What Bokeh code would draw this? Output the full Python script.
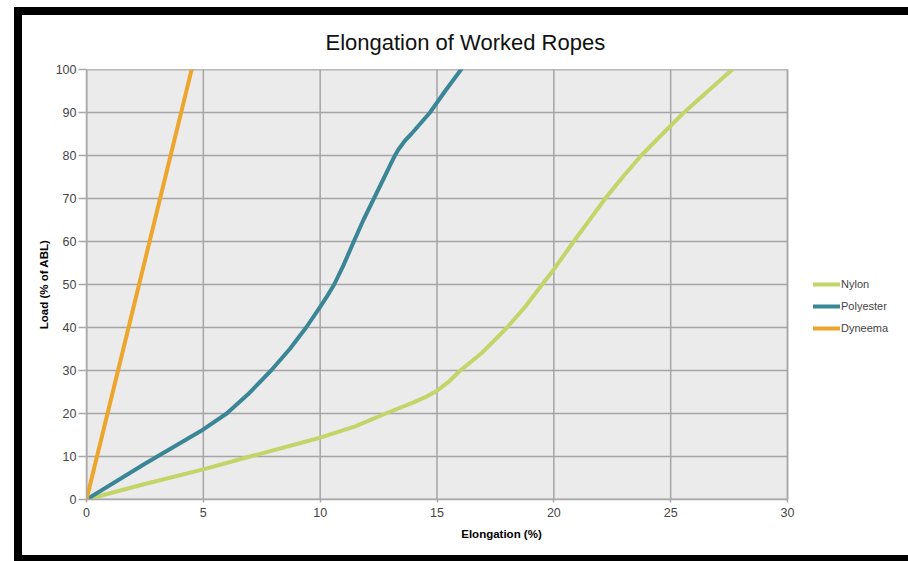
from bokeh.plotting import figure
from bokeh.models import Legend, LegendItem, Range1d, FixedTicker
from bokeh.embed import file_html
from bokeh.resources import INLINE

# ---- data ----
nylon_x = [0, 2.5, 5, 7, 9.2, 10, 11.5, 12.8, 14, 14.5, 15, 15.5, 16, 16.9, 18, 18.8, 19.5, 20,
           20.85, 21.5, 22.2, 22.95, 23.74, 24.65, 25.57, 26.6, 27.64]
nylon_y = [0, 3.6, 7.0, 10, 13.2, 14.4, 17, 20, 22.6, 23.8, 25.3, 27.4, 30, 34, 40, 45, 50, 53.5,
           60, 64.8, 70, 75, 80, 85, 90, 95, 100]

polyester_x = [0, 2.5, 5, 6, 6.9, 7.9, 8.7, 9.4, 10, 10.3, 10.6, 11.0, 11.4, 11.85, 12.3, 12.75,
               13.0, 13.2, 13.35, 13.65, 13.9, 14.7, 15.35, 16.03]
polyester_y = [0, 8.3, 16.3, 20, 24.4, 30, 35, 40, 44.8, 47.3, 50, 54.5, 59.5, 65, 70, 75,
               77.8, 80, 81.4, 83.6, 85, 90, 95, 100]

dyneema_x = [0, 2.25, 4.5]
dyneema_y = [0, 50, 100]

x_ticks = [0, 5, 10, 15, 20, 25, 30]
y_ticks = [0, 10, 20, 30, 40, 50, 60, 70, 80, 90, 100]

series_names = ["Nylon", "Polyester", "Dyneema"]
series_colors = ["#c3d469", "#3b8696", "#eca62c"]

FONT = "Liberation Sans"

# layout (pixels); the canvas takes the size of the element including its borders
W, H = 886, 540
BL, BT, BB = 8, 8, 6
CW, CH = W + BL, H + BT + BB
ML, MT, MR = 64, 54, 0
PLOT_W, PLOT_H = 701, 430     # grey plot area
MB = CH - MT - PLOT_H
frame_w = CW - ML - MR
x_end = x_ticks[-1] * frame_w / PLOT_W   # frame extends to the right for the legend

p = figure(width=W, height=H, output_backend="svg", toolbar_location=None,
           x_range=Range1d(x_ticks[0], x_end), y_range=Range1d(y_ticks[0], y_ticks[-1]),
           min_border_left=ML, min_border_right=MR, min_border_top=MT, min_border_bottom=MB,
           background_fill_color="white", border_fill_color="white")

# black photo-like frame (left, top, bottom) around the chart
p.styles = {"box-sizing": "content-box", "margin-left": "14px", "margin-top": "7px",
            "border-left": f"{BL}px solid black", "border-top": f"{BT}px solid black",
            "border-bottom": f"{BB}px solid black"}

p.outline_line_color = None
p.grid.visible = False

p.title.text = "Elongation of Worked Ropes"
p.title.align = "left"
p.title.vertical_align = "top"
p.title.offset = 239
p.title.standoff = 26
p.title.text_font = FONT
p.title.text_font_size = "22px"
p.title.text_font_style = "normal"
p.title.text_color = "#111111"

# grey plot area with its grid
p.quad(left=[x_ticks[0]], right=[x_ticks[-1]], bottom=[y_ticks[0]], top=[y_ticks[-1]],
       fill_color="#ebebeb", line_color="#a8a8a8", line_width=1.5)
p.segment(x0=x_ticks, x1=x_ticks, y0=[y_ticks[0]] * len(x_ticks), y1=[y_ticks[-1]] * len(x_ticks),
          line_color="#a5a5a5", line_width=1.5)
p.segment(x0=[x_ticks[0]] * len(y_ticks), x1=[x_ticks[-1]] * len(y_ticks), y0=y_ticks, y1=y_ticks,
          line_color="#a5a5a5", line_width=1.5)

p.xaxis.ticker = FixedTicker(ticks=x_ticks)
p.yaxis.ticker = FixedTicker(ticks=y_ticks)
p.xaxis.bounds = (x_ticks[0], x_ticks[-1])
for ax in (p.xaxis[0], p.yaxis[0]):
    ax.axis_line_color = "#a8a8a8"
    ax.axis_line_width = 1.5
    ax.major_tick_line_color = "#a8a8a8"
    ax.major_tick_line_width = 1.5
    ax.major_tick_in = 0
    ax.minor_tick_line_color = None
    ax.major_label_text_font = FONT
    ax.major_label_text_font_size = "12.5px"
    ax.major_label_text_color = "#444444"
    ax.axis_label_text_font = FONT
    ax.axis_label_text_font_size = "11.5px"
    ax.axis_label_text_font_style = "bold"
    ax.axis_label_text_color = "#000000"

p.xaxis.axis_label = "Elongation (%)"
p.yaxis.axis_label = "Load (% of ABL)"
p.xaxis.major_tick_out = 3
p.yaxis.major_tick_out = 8
p.xaxis.major_label_standoff = 5
p.yaxis.major_label_standoff = 2
p.xaxis.axis_label_standoff = 8
p.yaxis.axis_label_standoff = 3

renderers = []
for xs, ys, c in ((nylon_x, nylon_y, series_colors[0]),
                  (polyester_x, polyester_y, series_colors[1]),
                  (dyneema_x, dyneema_y, series_colors[2])):
    r = p.line(xs, ys, line_color=c, line_width=4, line_join="round", line_cap="round")
    renderers.append(r)

legend = Legend(items=[LegendItem(label=n, renderers=[r]) for n, r in zip(series_names, renderers)],
                location=(727, 161), padding=0, margin=0, spacing=2,
                glyph_width=27, glyph_height=20, label_height=20, label_standoff=1,
                label_text_font=FONT, label_text_font_size="11px", label_text_color="#444444",
                background_fill_alpha=0, border_line_alpha=0)
p.add_layout(legend)

open("out.html", "w").write(file_html(p, INLINE))
